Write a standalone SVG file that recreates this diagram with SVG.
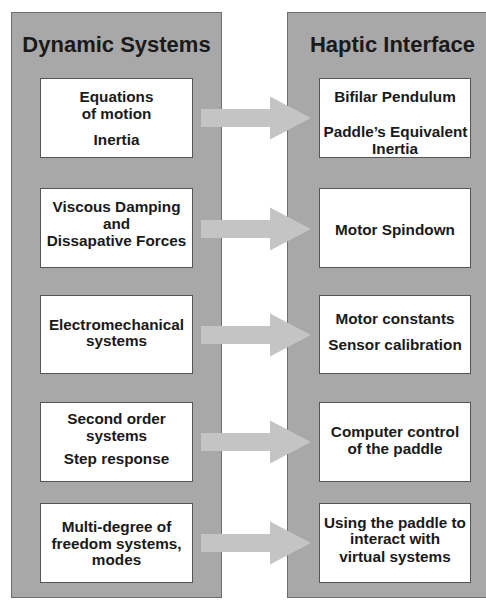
<svg xmlns="http://www.w3.org/2000/svg" width="486" height="606" viewBox="0 0 486 606">
<style>
.panel{fill:#a8a8a8;stroke:#6e6e6e;stroke-width:1}
.box{fill:#ffffff;stroke:#555555;stroke-width:1}
.hdr{font-family:"Liberation Sans",Arial,sans-serif;font-weight:bold;font-size:22px;fill:#1a1a1a;text-anchor:middle}
.t{font-family:"Liberation Sans",Arial,sans-serif;font-weight:bold;font-size:15.3px;fill:#1a1a1a;text-anchor:middle}
.arrow{fill:#c4c4c4}
</style>
<defs>
<path id="arr" d="M201,-9 H270 V-21.5 L311,0 L270,21.5 V9 H201 Z"/>
</defs>
<rect width="486" height="606" fill="#ffffff"/>
<g id="panel-dynamic">
<rect class="panel" x="11.5" y="12.5" width="210" height="585"/>
<text class="hdr" x="116.5" y="52">Dynamic Systems</text>
</g>
<g id="panel-haptic">
<rect class="panel" x="287.5" y="12.5" width="210" height="585"/>
<text class="hdr" x="392.5" y="52">Haptic Interface</text>
</g>
<g id="connectors">
<use href="#arr" class="arrow" y="118"/>
<use href="#arr" class="arrow" y="229"/>
<use href="#arr" class="arrow" y="335"/>
<use href="#arr" class="arrow" y="442"/>
<use href="#arr" class="arrow" y="543"/>
</g>
<g id="ds1">
<rect class="box" x="40.5" y="78.5" width="152" height="79"/>
<text class="t" x="116.5" y="101.5">Equations</text>
<text class="t" x="116.5" y="118.5">of motion</text>
<text class="t" x="116.5" y="144.5">Inertia</text>
</g>
<g id="ds2">
<rect class="box" x="40.5" y="188.5" width="152" height="79"/>
<text class="t" x="116.5" y="211.5">Viscous Damping</text>
<text class="t" x="116.5" y="228.5">and</text>
<text class="t" x="116.5" y="245.5">Dissapative Forces</text>
</g>
<g id="ds3">
<rect class="box" x="40.5" y="295.5" width="152" height="78"/>
<text class="t" x="116.5" y="329.5">Electromechanical</text>
<text class="t" x="116.5" y="346">systems</text>
</g>
<g id="ds4">
<rect class="box" x="40.5" y="402.5" width="152" height="79"/>
<text class="t" x="116.5" y="424">Second order</text>
<text class="t" x="116.5" y="440.5">systems</text>
<text class="t" x="116.5" y="464">Step response</text>
</g>
<g id="ds5">
<rect class="box" x="40.5" y="503.5" width="152" height="79"/>
<text class="t" x="116.5" y="531.5">Multi-degree of</text>
<text class="t" x="116.5" y="548.5">freedom systems,</text>
<text class="t" x="116.5" y="565">modes</text>
</g>
<g id="hi1">
<rect class="box" x="319.5" y="78.5" width="151" height="79"/>
<text class="t" x="395" y="101.5">Bifilar Pendulum</text>
<text class="t" x="395.5" y="137">Paddle’s Equivalent</text>
<text class="t" x="395" y="153.5">Inertia</text>
</g>
<g id="hi2">
<rect class="box" x="319.5" y="188.5" width="151" height="79"/>
<text class="t" x="395" y="235">Motor Spindown</text>
</g>
<g id="hi3">
<rect class="box" x="319.5" y="295.5" width="151" height="78"/>
<text class="t" x="395" y="324">Motor constants</text>
<text class="t" x="395" y="350">Sensor calibration</text>
</g>
<g id="hi4">
<rect class="box" x="319.5" y="402.5" width="151" height="79"/>
<text class="t" x="395" y="437">Computer control</text>
<text class="t" x="395" y="454">of the paddle</text>
</g>
<g id="hi5">
<rect class="box" x="319.5" y="503.5" width="151" height="79"/>
<text class="t" x="395" y="527.5">Using the paddle to</text>
<text class="t" x="395" y="544">interact with</text>
<text class="t" x="395" y="561.5">virtual systems</text>
</g>
</svg>
